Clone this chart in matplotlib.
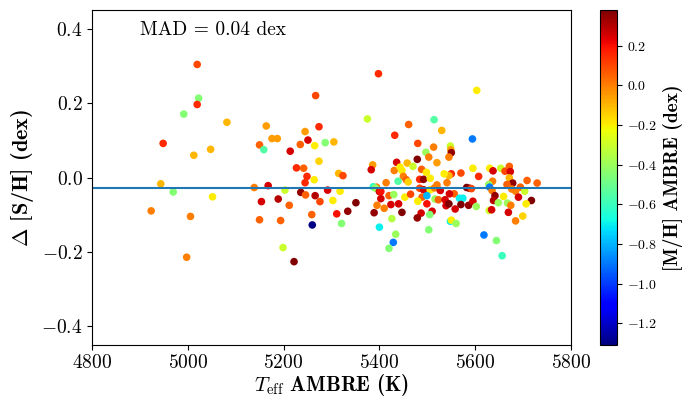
import numpy as np
import matplotlib
matplotlib.use('Agg')
import matplotlib.pyplot as plt

plt.rcParams['font.family'] = 'serif'
plt.rcParams['font.serif'] = ['cmr10']
plt.rcParams['mathtext.fontset'] = 'cm'
plt.rcParams['axes.formatter.use_mathtext'] = True
plt.rcParams['axes.unicode_minus'] = True

# Teff AMBRE (K), Delta [S/H] (dex), [M/H] AMBRE (dex)
teff = [5020, 5023, 5020, 4992, 5082, 4949, 5048, 5013, 4944, 4970, 5052, 4924, 5006, 4998,
        5267, 5375, 5164, 5274, 5245, 5176, 5187, 5251, 5150, 5159, 5235, 5265, 5287, 5305,
        5214, 5274, 5227, 5242, 5315, 5324, 5249, 5264, 5245, 5386, 5383, 5139, 5168, 5203,
        5236, 5246, 5266, 5292, 5318, 5154, 5189, 5212, 5276, 5303, 5351, 5334, 5311, 5259,
        5150, 5194, 5260, 5321, 5389, 5400, 5199, 5222, 5394, 5387, 5392, 5400, 5395,
        5398, 5603, 5514, 5461, 5530, 5594, 5432, 5480, 5497, 5513, 5548, 5549, 5550, 5545,
        5479, 5503, 5520, 5436, 5458, 5595, 5431, 5447, 5443, 5488, 5498, 5550, 5570, 5607,
        5545, 5450, 5439, 5456, 5460, 5484, 5492, 5506, 5541, 5414, 5582, 5588, 5484, 5492,
        5506, 5515, 5527, 5403, 5420, 5403, 5410, 5424, 5440, 5430, 5453, 5489, 5499, 5516,
        5480, 5499, 5523, 5537, 5556, 5546, 5567, 5574, 5539, 5545, 5558, 5570, 5586, 5595,
        5602, 5510, 5487, 5479, 5447, 5505, 5548, 5550, 5560, 5503, 5426, 5434, 5429, 5420,
        5630, 5637, 5653, 5662, 5671, 5673, 5671, 5636, 5628, 5630, 5678, 5666, 5694, 5708,
        5729, 5676, 5684, 5703, 5635, 5592, 5641, 5638, 5659, 5648, 5667, 5674, 5690, 5717,
        5706, 5629, 5634, 5669, 5699, 5684, 5618, 5644, 5656, 5470, 5520, 5465, 5535]
dsh = [0.305, 0.214, 0.197, 0.171, 0.149, 0.092, 0.076, 0.060, -0.017, -0.039, -0.052, -0.090, -0.105, -0.215,
       0.221, 0.158, 0.139, 0.137, 0.124, 0.105, 0.105, 0.101, 0.088, 0.075, 0.089, 0.086, 0.094, 0.096,
       0.071, 0.044, 0.026, 0.025, 0.011, 0.005, 0.003, -0.006, -0.014, 0.034, 0.021, -0.027, -0.022, -0.034,
       -0.040, -0.047, -0.049, -0.034, -0.037, -0.065, -0.058, -0.075, -0.065, -0.062, -0.068, -0.091, -0.098, -0.100,
       -0.114, -0.116, -0.128, -0.124, -0.095, -0.134, -0.189, -0.227, -0.026, -0.025, -0.029, -0.038, -0.075,
       0.280, 0.235, 0.156, 0.143, 0.127, 0.104, 0.114, 0.092, 0.068, 0.082, 0.085, 0.075, 0.067, 0.055,
       0.049, 0.055, 0.040, 0.041, 0.039, 0.025, 0.019, 0.019, 0.028, 0.022, 0.014, 0.010, 0.012, 0.003,
       0.005, 0.003, -0.010, -0.006, -0.012, -0.005, -0.005, -0.002, -0.014, -0.014, -0.027, -0.029, -0.029, -0.033,
       -0.033, -0.028, -0.035, -0.038, -0.049, -0.057, -0.083, -0.073, -0.071, -0.046, -0.053, -0.053, -0.049, -0.058,
       -0.064, -0.071, -0.060, -0.060, -0.044, -0.044, -0.056, -0.056, -0.076, -0.071, -0.085, -0.073, -0.075, -0.064,
       -0.078, -0.091, -0.096, -0.109, -0.094, -0.100, -0.118, -0.115, -0.124, -0.141, -0.111, -0.153, -0.175, -0.191,
       0.025, 0.018, 0.025, 0.017, 0.030, 0.016, -0.001, -0.010, -0.019, -0.026, -0.015, -0.019, -0.026, -0.008,
       -0.015, -0.031, -0.037, -0.037, -0.035, -0.030, -0.049, -0.062, -0.051, -0.068, -0.069, -0.075, -0.053, -0.062,
       -0.071, -0.089, -0.087, -0.094, -0.104, -0.117, -0.155, -0.170, -0.211, 0.030, -0.020, -0.045, 0.010]
mh = [0.10, -0.45, 0.15, -0.45, -0.10, 0.15, -0.10, -0.10, -0.10, -0.45, -0.20, 0.00, 0.00, 0.00,
      0.10, -0.30, -0.05, 0.15, -0.05, -0.05, -0.05, 0.25, 0.05, -0.55, 0.05, -0.20, -0.45, -0.10,
      0.25, -0.15, 0.15, 0.05, -0.10, 0.10, 0.15, -0.20, 0.15, -0.05, 0.25, 0.00, 0.25, -0.30,
      0.35, 0.05, 0.30, 0.25, -0.20, 0.25, 0.30, 0.05, 0.10, -0.20, 0.38, 0.35, 0.20, 0.05,
      0.05, 0.05, -1.30, -0.45, 0.35, -0.70, -0.30, 0.38, 0.00, -0.60, -0.40, 0.25, 0.00,
      0.15, -0.20, -0.55, 0.05, -0.10, -0.90, 0.15, 0.10, -0.40, 0.00, -0.30, -0.05, 0.35, 0.00,
      0.38, 0.00, -0.05, 0.25, -0.10, -0.20, 0.00, -0.20, -0.20, 0.05, -0.20, 0.15, 0.10, 0.15,
      -0.10, 0.00, -0.55, 0.05, -0.15, 0.15, 0.35, -0.20, 0.00, 0.00, 0.38, 0.35, 0.10, 0.25,
      -0.20, 0.00, 0.25, 0.20, 0.05, 0.25, 0.00, 0.25, 0.25, -0.40, -0.20, 0.05, -0.80, -0.40,
      -0.20, 0.20, 0.05, 0.25, 0.05, 0.25, -0.70, -0.70, 0.25, 0.38, 0.25, 0.38, 0.35, 0.25,
      -0.40, 0.25, 0.25, 0.35, 0.38, -0.45, -0.70, -0.20, -0.40, -0.45, -0.35, -0.40, -0.90, -0.45,
      -0.20, 0.25, -0.30, 0.10, 0.05, 0.25, -0.10, 0.00, -0.40, -0.90, 0.35, 0.05, 0.05, 0.05,
      0.05, 0.00, 0.00, -0.30, 0.00, 0.10, 0.35, 0.30, -0.20, -0.40, -0.40, 0.00, 0.25, 0.38,
      -0.20, -0.30, 0.25, 0.25, -0.15, 0.00, -0.90, -0.45, -0.60, -0.30, 0.00, 0.10, -0.20]

offset = -0.027
mad = 0.04

fig = plt.figure(figsize=(7.0, 3.98), dpi=100)
ax = fig.add_axes([0.131, 0.133, 0.685, 0.842])
cax = fig.add_axes([0.857, 0.133, 0.025, 0.842])

sc = ax.scatter(teff, dsh, c=mh, cmap='jet', vmin=-1.31, vmax=0.38, s=30, edgecolors='none')
ax.axhline(offset, color='#1f77b4', lw=1.5)

ax.set_xlim(4800, 5800)
ax.set_ylim(-0.452, 0.452)
ax.set_xticks([4800, 5000, 5200, 5400, 5600, 5800])
ax.set_yticks([-0.4, -0.2, 0.0, 0.2, 0.4])
ax.tick_params(labelsize=14, pad=3)
ax.set_xlabel(r'$T_{\rm eff}$ AMBRE (K)', fontsize=15, family='cmb10', labelpad=0)
ax.set_ylabel(r'$\Delta$ [S/H] (dex)', fontsize=16, family='cmb10')
ax.text(0.1, 0.94, f'MAD = {mad:.2f} dex', transform=ax.transAxes, fontsize=14, va='center')

cb = fig.colorbar(sc, cax=cax)
cb.set_ticks([0.2, 0.0, -0.2, -0.4, -0.6, -0.8, -1.0, -1.2])
cb.ax.tick_params(labelsize=10)
cb.set_label('[M/H] AMBRE (dex)', fontsize=14, family='cmb10')

fig.savefig('out.png', dpi=100)
